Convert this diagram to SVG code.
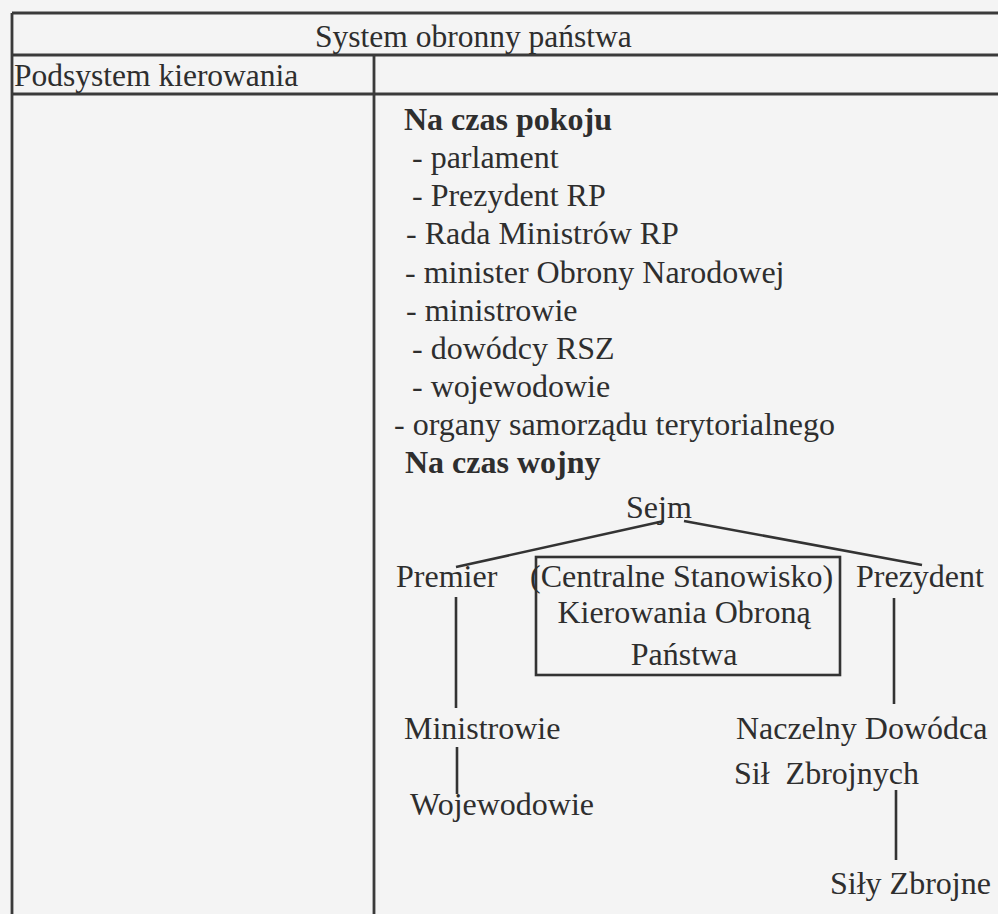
<svg xmlns="http://www.w3.org/2000/svg" width="998" height="914" viewBox="0 0 998 914">
<style>
.t{font-family:"Liberation Serif","Times New Roman",serif;fill:#2e2e2e}
.h{font-size:31.5px}
.l{font-size:32px}
.d{font-size:32px}
.b{font-weight:bold}
.grid{stroke:#3a3a3a;stroke-width:2.8;fill:none}
.c{stroke:#333;stroke-width:2.6;fill:none}
</style>
<rect x="0" y="0" width="998" height="914" fill="#f4f4f4"/>
<g id="table">
<line class="grid" x1="12" y1="13" x2="998" y2="13"/>
<line class="grid" x1="12" y1="55" x2="998" y2="55"/>
<line class="grid" x1="12" y1="94" x2="998" y2="94"/>
<line class="grid" x1="12" y1="13" x2="12" y2="914"/>
<line class="grid" x1="374" y1="55" x2="374" y2="914"/>
</g>
<g id="header">
<text class="t h" x="315" y="47">System obronny państwa</text>
<text class="t h" x="14" y="86">Podsystem kierowania</text>
</g>
<g id="peace-list">
<text class="t l b" x="404" y="130">Na czas pokoju</text>
<text class="t l" x="412" y="168">- parlament</text>
<text class="t l" x="412" y="206">- Prezydent RP</text>
<text class="t l" x="406" y="244">- Rada Ministrów RP</text>
<text class="t l" x="405" y="283">- minister Obrony Narodowej</text>
<text class="t l" x="406" y="321">- ministrowie</text>
<text class="t l" x="412" y="359">- dowódcy RSZ</text>
<text class="t l" x="412" y="397">- wojewodowie</text>
<text class="t l" x="394" y="435">- organy samorządu terytorialnego</text>
<text class="t l b" x="405" y="473">Na czas wojny</text>
</g>
<g id="connectors">
<line class="c" x1="664" y1="521" x2="456" y2="567"/>
<line class="c" x1="684" y1="521" x2="922" y2="565"/>
<line class="c" x1="456" y1="597" x2="456" y2="708"/>
<line class="c" x1="894" y1="598" x2="894" y2="704"/>
<line class="c" x1="457" y1="747" x2="457" y2="794"/>
<line class="c" x1="896" y1="790" x2="896" y2="860"/>
</g>
<g id="sejm"><text class="t d" x="626" y="518">Sejm</text></g>
<g id="premier"><text class="t d" x="396" y="587">Premier</text></g>
<g id="csk">
<rect class="c" x="536" y="557" width="304" height="118"/>
<text class="t d" x="530" y="587">(Centralne Stanowisko)</text>
<text class="t d" x="684" y="623" text-anchor="middle">Kierowania Obroną</text>
<text class="t d" x="684" y="665" text-anchor="middle">Państwa</text>
</g>
<g id="prezydent"><text class="t d" x="856" y="587">Prezydent</text></g>
<g id="ministrowie"><text class="t d" x="404" y="739">Ministrowie</text></g>
<g id="wojewodowie"><text class="t d" x="410" y="815">Wojewodowie</text></g>
<g id="ndsz">
<text class="t d" x="736" y="739">Naczelny Dowódca</text>
<text class="t d" x="734" y="784" xml:space="preserve">Sił  Zbrojnych</text>
</g>
<g id="sily"><text class="t d" x="830" y="894">Siły Zbrojne</text></g>
</svg>
